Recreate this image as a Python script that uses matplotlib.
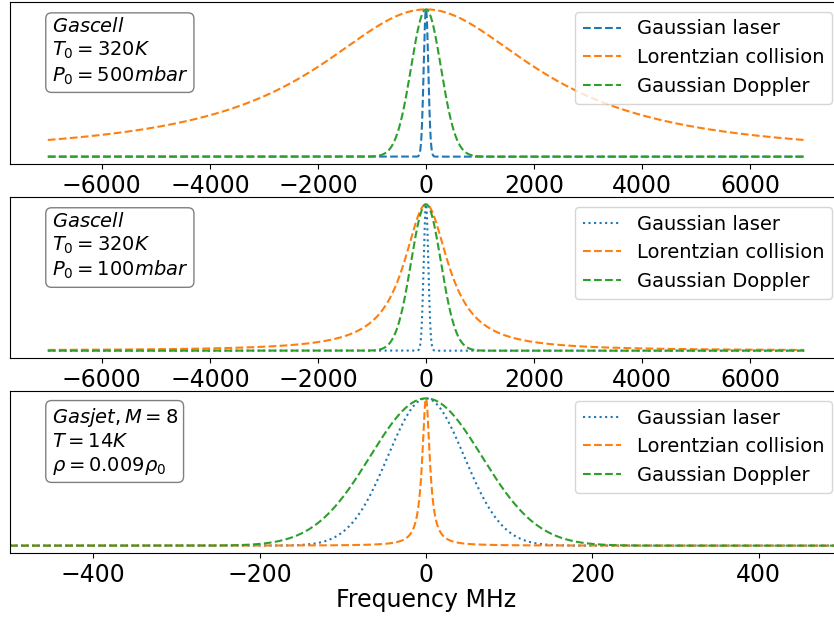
import numpy as np
import matplotlib
matplotlib.use('Agg')
import matplotlib.pyplot as plt

# Line widths (FWHM, MHz), one entry per panel
laser_fwhm = [100, 100, 108]
collision_fwhm = [5000, 1000, 11]
doppler_fwhm = [650, 650, 158]

# Frequency span of each panel (MHz)
span = [7000, 7000, 500]
xlims = [(-7700, 7700), (-7700, 7700), (-500, 500)]

laser_styles = ['--', ':', ':']
labels = ['Gaussian laser', 'Lorentzian collision', 'Gaussian Doppler']

info = [
    r'$Gascell$' + '\n' + r'$T_0 = 320K$' + '\n' + r'$P_0 = 500mbar$',
    r'$Gascell$' + '\n' + r'$T_0 = 320K$' + '\n' + r'$P_0 = 100mbar$',
    r'$Gasjet, M = 8$' + '\n' + r'$T = 14K$' + '\n' + r'$\rho = 0.009\rho_0$',
]


def gauss(x, fwhm):
    return np.exp(-4 * np.log(2) * x ** 2 / fwhm ** 2)


def lorentz(x, fwhm):
    return 1 / (1 + (2 * x / fwhm) ** 2)


fig = plt.figure(figsize=(8.34, 6.17), dpi=100)

# axes boxes in pixels: (top, bottom); right edge runs off the figure like the original
rows = [(2, 164), (197, 358), (391, 553)]
W, H = 834, 617

for i, (top, bot) in enumerate(rows):
    ax = fig.add_axes([10 / W, (H - bot) / H, 832 / W, (bot - top) / H])
    x = np.linspace(-span[i], span[i], 4001)
    ax.plot(x, gauss(x, laser_fwhm[i]), laser_styles[i], color='C0', label=labels[0])
    ax.plot(x, lorentz(x, collision_fwhm[i]), '--', color='C1', label=labels[1])
    ax.plot(x, gauss(x, doppler_fwhm[i]), '--', color='C2', label=labels[2])
    ax.set_xlim(*xlims[i])
    ax.set_yticks([])
    ax.tick_params(axis='x', labelsize=17)
    ax.legend(loc='upper right', fontsize=14)
    props = dict(boxstyle='round', facecolor='white', alpha=0.5)
    ax.text(0.05, 0.905, info[i], transform=ax.transAxes, fontsize=14,
            va='top', bbox=props)
    if i == 2:
        ax.set_xlabel('Frequency MHz', fontsize=17, labelpad=1)

fig.savefig('out.png', dpi=100)
